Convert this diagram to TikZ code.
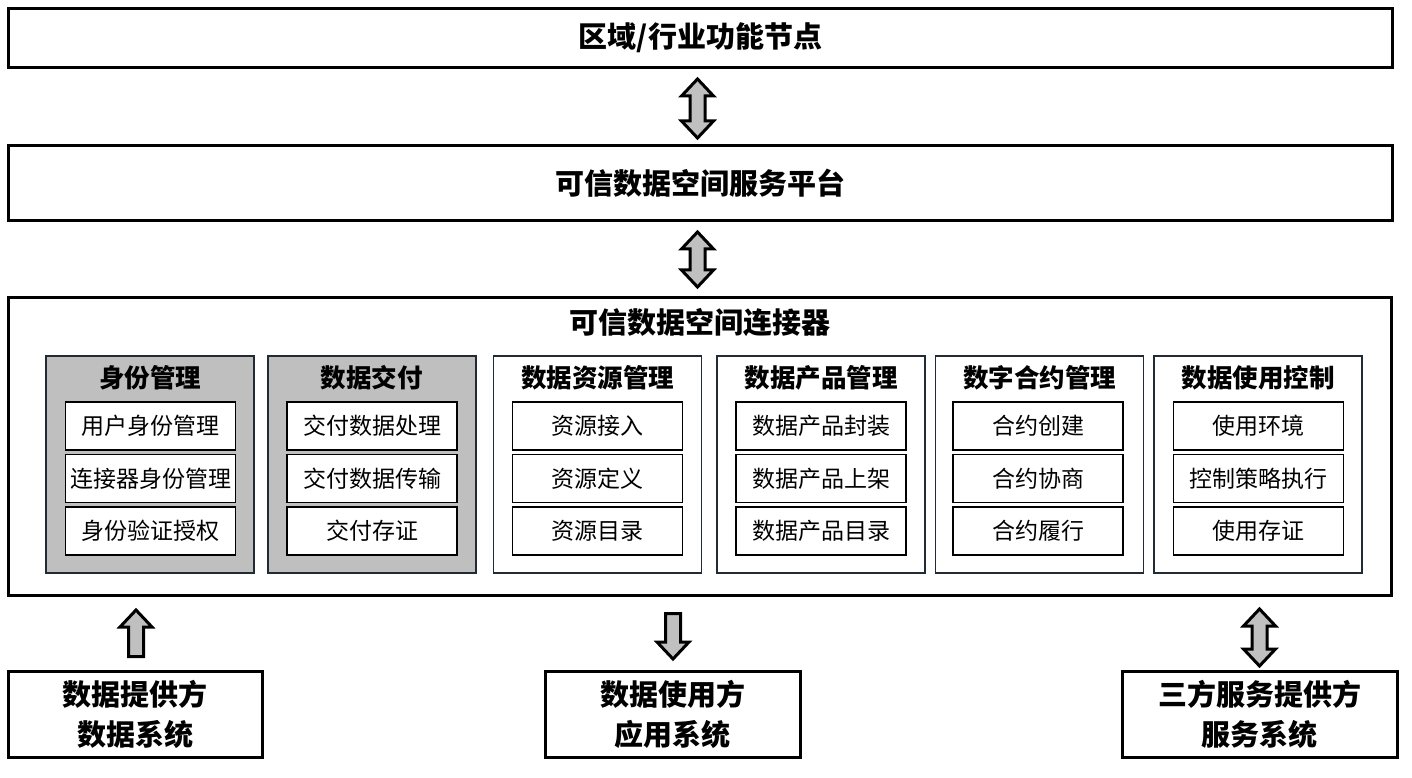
\documentclass[tikz,border=0pt]{standalone}
\usepackage{fontspec}
\newfontfamily\cjk{Noto Sans CJK SC}
\usetikzlibrary{calc}

% vertical block arrows between two named coordinates
\newcommand{\dblarrow}[2]{%
\coordinate (h1) at ($(#1)!17pt!(#2)$);
\coordinate (h2) at ($(#2)!17pt!(#1)$);
\path[blockarrow] (#1) -- ($(h1)+(16,0)$) -- ($(h1)+(7.5,0)$) -- ($(h2)+(7.5,0)$) -- ($(h2)+(16,0)$) -- (#2) -- ($(h2)+(-16,0)$) -- ($(h2)+(-7.5,0)$) -- ($(h1)+(-7.5,0)$) -- ($(h1)+(-16,0)$) -- cycle;}
\newcommand{\sglarrow}[2]{%
\coordinate (h2) at ($(#2)!17pt!(#1)$);
\path[blockarrow] ($(#1)+(7.5,0)$) -- ($(h2)+(7.5,0)$) -- ($(h2)+(16,0)$) -- (#2) -- ($(h2)+(-16,0)$) -- ($(h2)+(-7.5,0)$) -- ($(#1)+(-7.5,0)$) -- cycle;}

\begin{document}
\begin{tikzpicture}[x=1pt,y=1pt,
  outerbox/.style={draw=black,line width=3pt,fill=white,inner sep=0pt,outer sep=0pt,align=center,font=\cjk\bfseries\fontsize{29}{40}\selectfont},
  groupbox/.style={draw=groupBorder,line width=1.6pt,minimum width=208pt,minimum height=217pt,inner sep=0pt,outer sep=0pt},
  grouptitle/.style={inner sep=0pt,font=\cjk\bfseries\fontsize{25.5}{30}\selectfont},
  itembox/.style={draw=black,line width=1.2pt,fill=white,minimum width=170pt,minimum height=48pt,inner sep=0pt,font=\cjk\fontsize{23}{28}\selectfont},
  blockarrow/.style={draw=black,line width=3pt,fill=arrowFill,line join=miter}]
\definecolor{groupFill}{RGB}{191,191,191}
\definecolor{groupBorder}{RGB}{34,43,53}
\definecolor{arrowFill}{RGB}{192,192,192}
\path[use as bounding box,fill=white] (0,0) rectangle (1412,777);

\node[outerbox,minimum width=1384pt,minimum height=59pt] (region) at (700.5,739) {区域/行业功能节点};
\node[outerbox,minimum width=1384pt,minimum height=74.5pt] (platform) at (700.5,594) {可信数据空间服务平台};
\node[outerbox,minimum width=1383pt,minimum height=298pt] (connector) at (700,330.6) {};
\node[grouptitle,font=\cjk\bfseries\fontsize{29}{34}\selectfont] (conntitle) at (700,454) {可信数据空间连接器};

% connector groups
\node[groupbox,fill=groupFill,line width=2pt] (identity) at (150,312.5) {};
\node[groupbox,fill=groupFill,line width=2pt] (delivery) at (371.5,312.5) {};
\node[groupbox] (resource) at (597.5,312.5) {};
\node[groupbox] (product) at (821,312.5) {};
\node[groupbox] (contract) at (1039.5,312.5) {};
\node[groupbox] (usage) at (1258,312.5) {};

\node[grouptitle] (identitytitle) at (150,399) {身份管理};
\node[grouptitle] (deliverytitle) at (371.5,399) {数据交付};
\node[grouptitle] (resourcetitle) at (597.5,399) {数据资源管理};
\node[grouptitle] (producttitle) at (821,399) {数据产品管理};
\node[grouptitle] (contracttitle) at (1039.5,399) {数字合约管理};
\node[grouptitle] (usagetitle) at (1258,399) {数据使用控制};

\node[itembox] (identity1) at (150.5,351) {用户身份管理};
\node[itembox] (identity2) at (150.5,298.5) {连接器身份管理};
\node[itembox] (identity3) at (150.5,246) {身份验证授权};

\node[itembox] (delivery1) at (372,351) {交付数据处理};
\node[itembox] (delivery2) at (372,298.5) {交付数据传输};
\node[itembox] (delivery3) at (372,246) {交付存证};

\node[itembox] (resource1) at (597.5,351) {资源接入};
\node[itembox] (resource2) at (597.5,298.5) {资源定义};
\node[itembox] (resource3) at (597.5,246) {资源目录};

\node[itembox] (product1) at (821,351) {数据产品封装};
\node[itembox] (product2) at (821,298.5) {数据产品上架};
\node[itembox] (product3) at (821,246) {数据产品目录};

\node[itembox] (contract1) at (1038,351) {合约创建};
\node[itembox] (contract2) at (1038,298.5) {合约协商};
\node[itembox] (contract3) at (1038,246) {合约履行};

\node[itembox] (usage1) at (1258.5,351) {使用环境};
\node[itembox] (usage2) at (1258.5,298.5) {控制策略执行};
\node[itembox] (usage3) at (1258.5,246) {使用存证};

% external systems
\node[outerbox,minimum width=254pt,minimum height=86pt] (provider) at (135,63) {数据提供方\\数据系统};
\node[outerbox,minimum width=255pt,minimum height=86pt] (consumer) at (672.5,63) {数据使用方\\应用系统};
\node[outerbox,minimum width=275pt,minimum height=86pt] (thirdparty) at (1259.5,63) {三方服务提供方\\服务系统};

% arrows
\coordinate (a1top) at ($(region.south)+(-3,-11.5)$);
\coordinate (a1bot) at ($(platform.north)+(-3,7.75)$);
\dblarrow{a1top}{a1bot}
\coordinate (a2top) at ($(platform.south)+(-3,-11.75)$);
\coordinate (a2bot) at ($(connector.north)+(-2.5,10.4)$);
\dblarrow{a2top}{a2bot}
\coordinate (a3tail) at ($(provider.north)+(1,14.5)$);
\coordinate (a3tip) at ($(provider.north|-connector.south)+(1,-14.6)$);
\sglarrow{a3tail}{a3tip}
\coordinate (a4tail) at ($(consumer.north|-connector.south)+(0.5,-18.1)$);
\coordinate (a4tip) at ($(consumer.north)+(0.5,12)$);
\sglarrow{a4tail}{a4tip}
\coordinate (a5top) at ($(thirdparty.north|-connector.south)+(0,-13.6)$);
\coordinate (a5bot) at ($(thirdparty.north)+(0,5)$);
\dblarrow{a5top}{a5bot}
\end{tikzpicture}
\end{document}
